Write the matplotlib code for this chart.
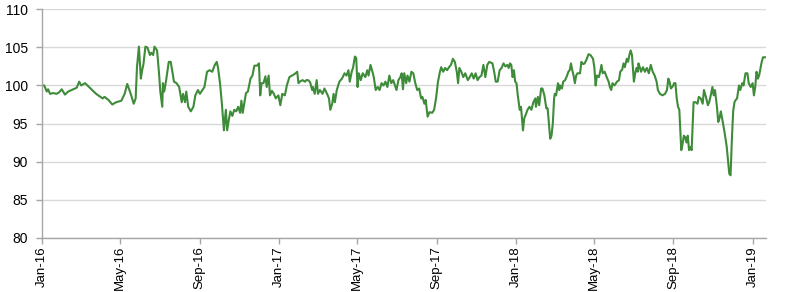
import matplotlib
matplotlib.use("Agg")
import matplotlib.pyplot as plt
import matplotlib.dates as mdates
import numpy as np
import pandas as pd

# Observation dates, given as days elapsed since 1 Jan 2016
start_date = "2016-01-01"
days_since_start = [
    0, 4, 8, 10, 13, 18, 23, 27, 31, 36, 41, 49, 54, 58, 61, 67, 73, 78, 84, 89,
    94, 97, 103, 109, 115, 123, 128, 132, 137, 142, 145, 147, 150, 153, 155, 157, 160, 163, 167, 169,
    172, 174, 178, 181, 183, 186, 187, 189, 192, 196, 199, 202, 204, 208, 212, 216, 218, 221, 223, 226,
    230, 234, 237, 241, 244, 248, 251, 255, 259, 263, 267, 270, 272, 275, 278, 281, 284, 286, 289, 291,
    294, 297, 300, 303, 306, 308, 310, 315, 318, 322, 325, 328, 332, 335, 337, 339, 342, 345, 347, 350,
    352, 355, 358, 361, 365, 368, 371, 375, 378, 382, 386, 390, 394, 396, 398, 402, 406, 408, 411, 414,
    417, 418, 421, 424, 426, 429, 433, 436, 440, 443, 445, 448, 450, 452, 455, 459, 463, 467, 470, 473,
    475, 478, 480, 483, 485, 487, 489, 492, 495, 499, 502, 504, 507, 510, 512, 515, 518, 521, 524, 527,
    530, 533, 536, 539, 542, 547, 550, 553, 555, 557, 559, 562, 564, 567, 570, 573, 576, 579, 582, 585,
    587, 590, 592, 595, 598, 602, 605, 608, 611, 614, 616, 619, 622, 625, 628, 631, 634, 637, 640, 642,
    644, 647, 650, 653, 657, 660, 663, 666, 669, 672, 675, 678, 681, 684, 687, 690, 695, 698, 700, 703,
    706, 709, 712, 715, 718, 720, 722, 724, 726, 728, 730, 732, 734, 737, 739, 742, 744, 746, 749, 752,
    755, 758, 761, 762, 765, 767, 770, 772, 775, 778, 780, 782, 784, 786, 788, 790, 791, 793, 796, 798,
    799, 802, 804, 807, 810, 812, 814, 816, 818, 820, 822, 824, 826, 830, 832, 835, 837, 840, 843, 846,
    850, 852, 854, 856, 859, 861, 863, 865, 868, 871, 874, 876, 878, 880, 883, 887, 890, 892, 895, 897,
    899, 902, 904, 906, 908, 910, 913, 915, 917, 919, 920, 922, 924, 927, 930, 933, 936, 939, 942, 945,
    948, 950, 953, 957, 961, 964, 966, 968, 970, 973, 975, 977, 979, 981, 983, 986, 988, 990, 992, 994,
    996, 998, 1000, 1002, 1005, 1008, 1011, 1013, 1016, 1019, 1021, 1024, 1027, 1029, 1032, 1034, 1036, 1038, 1041, 1043,
    1045, 1047, 1050, 1053, 1056, 1058, 1060, 1062, 1064, 1066, 1068, 1070, 1072, 1075, 1077, 1080, 1082, 1085, 1088, 1090,
    1093, 1096, 1098, 1100, 1102, 1104, 1106, 1108, 1110, 1112, 1116,
]

index_values = [
    100.0, 100.0, 99.2, 99.5, 98.9, 99.0, 98.9, 99.1, 99.5, 98.8, 99.2, 99.5, 99.7, 100.5, 100.0, 100.3, 99.8, 99.4, 98.9, 98.6,
    98.3, 98.5, 98.1, 97.5, 97.8, 98.0, 98.9, 100.2, 99.0, 97.6, 98.3, 102.4, 105.1, 100.9, 102.0, 102.8, 105.1, 105.0, 104.0, 104.3,
    104.0, 105.1, 104.6, 101.6, 99.2, 97.2, 100.3, 99.2, 100.7, 103.1, 103.1, 101.6, 100.5, 100.3, 99.8, 97.8, 98.9, 97.8, 99.2, 97.2,
    96.6, 97.2, 98.7, 99.4, 98.9, 99.4, 99.8, 101.8, 102.0, 101.8, 102.7, 103.1, 102.3, 100.3, 97.5, 94.1, 96.8, 94.1, 95.7, 96.6,
    96.0, 96.8, 96.6, 97.2, 96.4, 98.0, 96.4, 99.0, 99.2, 100.9, 101.3, 102.6, 102.6, 102.9, 98.7, 100.3, 100.3, 101.2, 99.8, 101.3,
    98.7, 99.3, 98.9, 98.3, 98.7, 97.4, 98.9, 98.7, 100.0, 101.1, 101.3, 101.5, 101.8, 100.3, 100.5, 100.7, 100.5, 100.7, 100.7, 100.4,
    99.4, 99.8, 98.9, 100.7, 98.9, 99.4, 98.9, 99.6, 98.9, 98.3, 96.8, 97.6, 98.9, 97.8, 99.4, 100.5, 100.9, 101.6, 101.3, 102.0,
    100.5, 101.8, 102.3, 103.8, 103.6, 99.8, 101.6, 100.7, 101.6, 101.1, 102.0, 101.3, 102.7, 101.8, 101.1, 99.4, 99.8, 99.4, 100.3, 100.0,
    100.5, 99.8, 101.3, 100.3, 100.7, 99.4, 100.7, 101.1, 101.6, 99.5, 101.6, 100.3, 101.3, 100.5, 101.8, 101.6, 100.3, 99.4, 99.6, 98.3,
    98.5, 97.6, 98.1, 95.9, 96.5, 96.4, 96.8, 98.3, 100.5, 101.8, 102.4, 101.8, 102.3, 102.0, 102.4, 102.7, 103.5, 103.1, 101.8, 100.3,
    102.3, 101.8, 101.1, 101.6, 100.7, 101.1, 101.6, 100.9, 101.6, 100.7, 101.1, 101.3, 102.7, 101.1, 102.7, 103.1, 102.9, 101.6, 100.5, 100.5,
    102.0, 102.3, 102.9, 102.5, 102.7, 102.3, 102.9, 102.7, 101.1, 102.0, 100.5, 100.3, 98.7, 96.8, 97.2, 94.1, 95.7, 96.1, 96.8, 97.2,
    96.8, 97.8, 98.3, 97.2, 98.5, 97.4, 99.6, 99.6, 98.7, 97.0, 97.0, 95.0, 93.0, 93.4, 95.0, 98.3, 98.9, 98.7, 100.3, 99.4,
    100.0, 99.6, 100.5, 100.7, 101.3, 101.8, 102.0, 102.9, 102.0, 101.3, 100.3, 101.3, 101.6, 101.6, 103.1, 102.8, 102.9, 103.4, 104.1, 104.0,
    103.5, 102.4, 100.0, 101.3, 101.1, 101.8, 102.7, 101.6, 101.8, 101.1, 100.5, 99.8, 99.4, 100.3, 100.0, 100.5, 100.7, 101.8, 102.1, 102.9,
    102.4, 103.5, 103.1, 104.0, 104.6, 104.0, 100.5, 101.6, 102.3, 101.8, 102.9, 102.4, 101.8, 102.4, 101.8, 102.3, 101.6, 102.7, 101.8, 101.3,
    100.5, 99.4, 98.9, 98.7, 98.9, 99.4, 100.9, 100.5, 99.6, 99.9, 100.3, 100.3, 98.3, 97.2, 96.8, 91.5, 92.3, 93.4, 93.2, 92.5,
    93.4, 91.5, 91.9, 91.5, 97.8, 97.8, 97.6, 98.5, 98.3, 97.6, 99.4, 98.5, 97.4, 97.8, 98.9, 99.8, 98.7, 99.4, 97.2, 95.2,
    95.7, 96.6, 95.2, 93.7, 92.0, 90.2, 88.4, 88.2, 92.9, 96.6, 97.8, 98.1, 98.3, 100.0, 99.4, 100.3, 100.0, 101.6, 101.6, 100.3,
    99.8, 100.3, 98.7, 99.8, 101.8, 100.9, 101.3, 102.2, 103.1, 103.7, 103.7,
]

tick_dates = ["2016-01-01", "2016-05-01", "2016-09-01", "2017-01-01", "2017-05-01",
              "2017-09-01", "2018-01-01", "2018-05-01", "2018-09-01", "2019-01-01"]
tick_labels = ["Jan-16", "May-16", "Sep-16", "Jan-17", "May-17",
               "Sep-17", "Jan-18", "May-18", "Sep-18", "Jan-19"]
y_ticks = [80, 85, 90, 95, 100, 105, 110]

dates = pd.Timestamp(start_date) + pd.to_timedelta(days_since_start, unit="D")

plt.rcParams["font.family"] = ["Liberation Sans", "DejaVu Sans"]

fig = plt.figure(figsize=(8.0, 2.92), dpi=100)
ax = fig.add_axes([0.052, 0.186, 0.905, 0.782])

ax.plot(dates, index_values, color="#3e8b39", linewidth=1.5, solid_joinstyle="round")

ax.set_ylim(80, 110)
ax.set_yticks(y_ticks)
ax.set_yticklabels([str(v) for v in y_ticks], fontsize=10)
ax.set_xlim(dates[0], dates[-1])
ax.set_xticks(pd.to_datetime(tick_dates))
ax.set_xticklabels(tick_labels, rotation=90, fontsize=9.5)

ax.grid(axis="y", color="#d9d9d9", linewidth=1.0)
ax.set_axisbelow(True)
for side in ["top", "right"]:
    ax.spines[side].set_visible(False)
for side in ["left", "bottom"]:
    ax.spines[side].set_color("#a6a6a6")
    ax.spines[side].set_linewidth(1.0)

ax.tick_params(axis="y", length=4, width=1, color="#a6a6a6", pad=6, labelcolor="black")
ax.tick_params(axis="x", length=4, width=1, color="#a6a6a6", pad=2, labelcolor="black")

fig.savefig("out.png", dpi=100)
